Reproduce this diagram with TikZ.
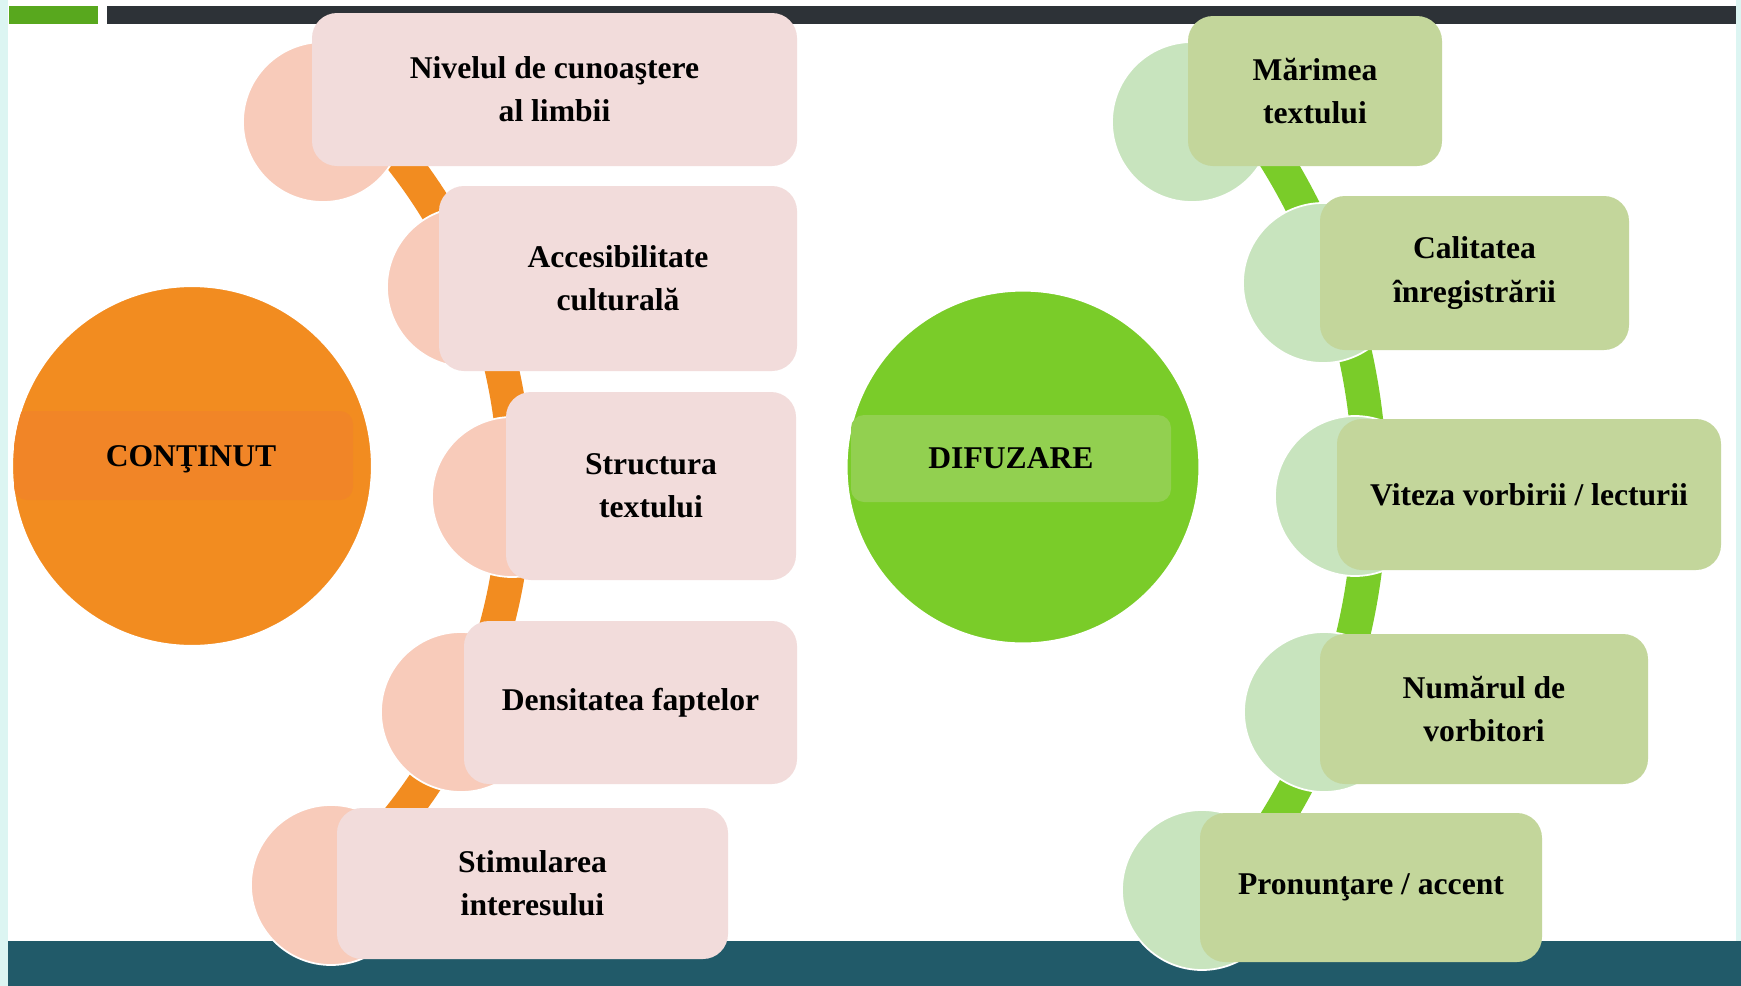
\documentclass[tikz,border=0pt]{standalone}
\usepackage{fontspec}
\setmainfont{Liberation Serif}
\usetikzlibrary{calc}
\usepackage{xcolor}
\definecolor{contOrange}{HTML}{F28C20}
\definecolor{contBand}{HTML}{F18527}
\definecolor{contBead}{HTML}{F8CBBA}
\definecolor{contBox}{HTML}{F2DCDB}
\definecolor{difGreen}{HTML}{7ACC29}
\definecolor{difBand}{HTML}{92D050}
\definecolor{difBead}{HTML}{C8E4BE}
\definecolor{difBox}{HTML}{C3D69B}
\definecolor{barDark}{HTML}{2D3237}
\definecolor{barGreen}{HTML}{58A81E}
\definecolor{barTeal}{HTML}{215A69}
\definecolor{edgeCyan}{HTML}{DCF5F2}

\begin{document}
\begin{tikzpicture}[x=0.1mm,y=-0.1mm,
 every node/.style={inner sep=0pt,font=\fontsize{9}{12.3}\selectfont\bfseries},
 bigdisc/.style={circle,draw=white,line width=0.6pt},
 bead/.style={circle,minimum size=16mm,draw=white,line width=0.5pt},
 itembox/.style={rounded corners=2.5mm,align=center}]
\useasboundingbox (0,0) rectangle (1741,986);
% slide frame
\fill[white] (0,0) rectangle (1741,986);
\fill[edgeCyan] (0,0) rectangle (8,986);
\fill[edgeCyan] (1736,0) rectangle (1741,941);
\fill[barGreen] (9,6) rectangle (98,24);
\fill[barDark] (107,6) rectangle (1736,24);
\fill[barTeal] (8,941) rectangle (1741,986);

% continut
\node[bigdisc,fill=contOrange,minimum size=36mm] (cont) at (192,466) {};
\begin{scope}
 \clip (192,466) circle[radius=179];
 \fill[contBand,rounded corners=1.3mm] (14,411) rectangle (353,500);
\end{scope}
\node (contlbl) at (191,459) {CONŢINUT};
\draw[white,line width=4mm] ($(-15,487)+(-47:530)$) arc[start angle=-47,end angle=47,radius=530];
\draw[contOrange,line width=3.4mm] ($(-15,487)+(-47:530)$) arc[start angle=-47,end angle=47,radius=530];
\foreach \x/\y [count=\i] in {323/122,467/287,512/497,461/712,331/885}
 \node[bead,fill=contBead] (cb\i) at (\x,\y) {};
\node[itembox,fill=contBox,minimum width=48.5mm,minimum height=15.3mm] (cont1) at (554.5,89.5) {Nivelul de cunoaştere\\al limbii};
\node[itembox,fill=contBox,minimum width=35.8mm,minimum height=18.5mm] (cont2) at (618,278.5) {Accesibilitate\\culturală};
\node[itembox,fill=contBox,minimum width=29mm,minimum height=18.8mm] (cont3) at (651,486) {Structura\\textului};
\node[itembox,fill=contBox,minimum width=33.3mm,minimum height=16.3mm] (cont4) at (630.5,702.5) {Densitatea faptelor};
\node[itembox,fill=contBox,minimum width=39.1mm,minimum height=15.1mm] (cont5) at (532.5,883.5) {Stimularea\\interesului};

% difuzare
\node[bigdisc,fill=difGreen,minimum size=35.3mm] (dif) at (1023,467) {};
\node[fill=difBand,rounded corners=1.3mm,minimum width=32mm,minimum height=8.7mm] (diflbl) at (1011,458.5) {DIFUZARE};
\draw[white,line width=4mm] ($(741,490)+(-36:629)$) arc[start angle=-36,end angle=36,radius=629];
\draw[difGreen,line width=3.4mm] ($(741,490)+(-36:629)$) arc[start angle=-36,end angle=36,radius=629];
\foreach \x/\y [count=\i] in {1192/122,1323/283,1355/496,1324/712,1202/890}
 \node[bead,fill=difBead] (db\i) at (\x,\y) {};
\node[itembox,fill=difBox,minimum width=25.4mm,minimum height=15mm] (dif1) at (1315,91) {Mărimea\\textului};
\node[itembox,fill=difBox,minimum width=30.9mm,minimum height=15.4mm] (dif2) at (1474.5,273) {Calitatea\\înregistrării};
\node[itembox,fill=difBox,minimum width=38.4mm,minimum height=15.1mm] (dif3) at (1529,494.5) {Viteza vorbirii / lecturii};
\node[itembox,fill=difBox,minimum width=32.8mm,minimum height=15mm] (dif4) at (1484,709) {Numărul de\\vorbitori};
\node[itembox,fill=difBox,minimum width=34.2mm,minimum height=14.9mm] (dif5) at (1371,887.5) {Pronunţare / accent};
\end{tikzpicture}
\end{document}
